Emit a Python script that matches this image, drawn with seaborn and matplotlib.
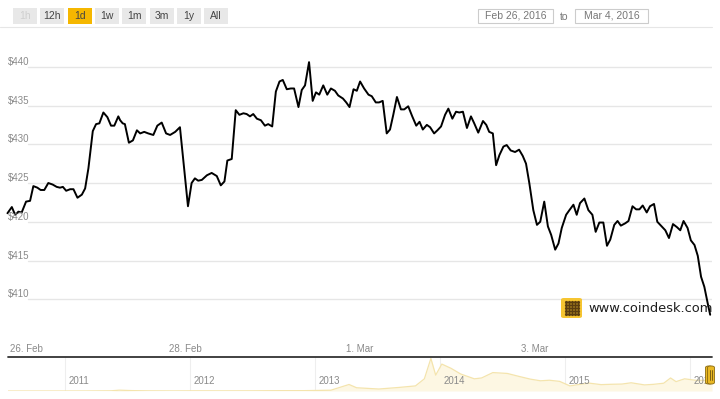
import numpy as np
import pandas as pd
import matplotlib
matplotlib.use("Agg")
import matplotlib.pyplot as plt
import matplotlib.dates as mdates
from matplotlib.patches import FancyBboxPatch
import seaborn as sns

# BPI price, hours after 26 Feb 2016 00:00
hours = [-0.7, 0.5, 1.4, 2.3, 3.2, 4.4, 5.5, 6.4, 7.5, 8.4, 9.4, 10.5, 11.7, 12.8, 13.7,
         14.5, 15.4, 16.5, 17.4, 18.5, 19.7, 20.6, 21.5, 22.7, 23.6, 24.5, 25.6, 26.7, 27.7,
         28.6, 29.7, 30.2, 30.9, 31.5, 32.6, 33.7, 34.8, 35.7, 36.8, 37.9, 39.3, 40.4, 41.6,
         42.8, 43.9, 45.3, 46.6, 47.5, 48.8, 49.8, 50.7, 51.6, 52.6, 54.0, 55.3, 56.7, 57.8,
         58.8, 59.6, 60.8, 61.9, 62.9, 64.0, 64.9, 65.8, 66.7, 67.7, 68.8, 69.9, 70.8, 71.9,
         72.9, 73.9, 74.8, 75.9, 77.0, 77.9, 79.1, 80.0, 80.9, 82.0, 83.0, 83.9, 84.8, 85.9,
         87.0, 88.0, 89.1, 90.0, 91.3, 92.2, 93.1, 94.2, 95.1, 96.0, 97.1, 98.3, 99.2, 100.3,
         101.2, 102.2, 103.3, 104.2, 105.1, 106.1, 107.2, 108.1, 109.2, 110.3, 111.4, 112.3,
         113.2, 114.3, 115.2, 116.3, 117.2, 118.2, 119.3, 120.2, 121.3, 122.3, 123.2, 124.2,
         125.3, 126.4, 127.3, 128.4, 129.7, 130.6, 131.4, 132.4, 133.3, 134.2, 135.3, 136.2,
         137.3, 138.5, 139.6, 140.6, 141.5, 142.4, 143.5, 144.5, 145.4, 146.5, 147.5, 148.4,
         149.5, 150.4, 151.3, 152.5, 153.4, 154.5, 155.4, 156.3, 157.5, 158.6, 159.7, 160.6,
         161.6, 162.7, 163.7, 164.6, 165.7, 166.6, 167.5, 168.7, 169.6, 170.7, 171.7, 172.6,
         173.5, 174.6, 175.5, 176.6, 177.5, 178.7, 179.7, 180.7, 181.8, 182.9, 183.8, 184.7,
         185.8, 186.7, 187.7, 188.6, 189.5, 190.4, 191.4, 192.0]
price = [421.1, 421.9, 420.9, 421.3, 421.2, 422.6, 422.7, 424.6, 424.4, 424.1, 424.1, 425.0,
         424.8, 424.5, 424.4, 424.5, 424.0, 424.2, 424.2, 423.1, 423.5, 424.3, 426.9, 431.7,
         432.6, 432.7, 434.1, 433.5, 432.4, 432.4, 433.6, 433.1, 432.7, 432.6, 430.2, 430.5,
         431.8, 431.4, 431.6, 431.4, 431.2, 432.4, 432.8, 431.4, 431.2, 431.6, 432.2, 428.0,
         422.0, 425.0, 425.6, 425.3, 425.4, 426.0, 426.3, 425.9, 424.7, 425.2, 427.9, 428.1,
         434.4, 433.8, 434.0, 433.9, 433.6, 433.9, 433.3, 433.1, 432.4, 432.6, 432.3, 436.8,
         438.1, 438.3, 437.1, 437.2, 437.2, 434.8, 437.0, 437.6, 440.6, 435.6, 436.7, 436.4,
         437.6, 436.4, 437.2, 436.9, 436.3, 435.9, 435.4, 434.8, 437.1, 436.9, 438.1, 437.2,
         436.4, 436.2, 435.4, 435.4, 435.6, 431.4, 431.9, 433.8, 436.1, 434.5, 434.5, 434.9,
         433.6, 432.4, 432.9, 431.9, 432.5, 432.2, 431.4, 431.8, 432.3, 433.8, 434.6, 433.3,
         434.2, 434.1, 434.2, 432.1, 433.6, 432.7, 431.5, 433.0, 432.5, 431.6, 431.4, 427.3,
         428.6, 429.7, 429.9, 429.2, 429.0, 429.3, 428.5, 427.5, 425.0, 421.5, 419.6, 420.0,
         422.6, 419.4, 418.3, 416.4, 417.2, 419.2, 420.9, 421.5, 422.2, 420.9, 422.4, 423.0,
         421.5, 420.9, 418.7, 419.9, 419.9, 416.9, 417.7, 419.6, 420.1, 419.5, 419.8, 420.1,
         422.0, 421.6, 421.6, 422.1, 421.2, 422.0, 422.3, 420.0, 419.4, 418.9, 417.9, 419.7,
         419.3, 418.9, 420.1, 419.2, 417.6, 417.0, 415.6, 412.9, 411.6, 409.3, 408.0]

# navigator: long-run history of the index
nav_dates = ["2010-07-18", "2010-10-01", "2011-01-01", "2011-03-01", "2011-05-15", "2011-06-08",
             "2011-07-15", "2011-09-01", "2011-11-15", "2012-01-15", "2012-04-01", "2012-07-01",
             "2012-09-15", "2012-12-01", "2013-02-15", "2013-04-09", "2013-05-01", "2013-07-05",
             "2013-09-01", "2013-10-20", "2013-11-15", "2013-12-04", "2013-12-18", "2014-01-05",
             "2014-02-01", "2014-03-01", "2014-04-10", "2014-05-01", "2014-06-03", "2014-07-15",
             "2014-08-20", "2014-09-20", "2014-10-20", "2014-11-15", "2014-12-15", "2015-01-14",
             "2015-02-15", "2015-03-10", "2015-04-15", "2015-05-15", "2015-06-15", "2015-07-12",
             "2015-08-20", "2015-09-15", "2015-10-15", "2015-11-04", "2015-11-20", "2015-12-15",
             "2016-01-15", "2016-02-10", "2016-03-04"]
nav_price = [0.07, 0.1, 0.3, 0.9, 7, 29, 14, 6, 3, 6, 5, 6.5, 12, 13, 28, 230, 115, 70,
             125, 180, 430, 1150, 560, 950, 800, 600, 430, 460, 650, 620, 510, 420, 360,
             380, 340, 180, 240, 280, 225, 237, 245, 290, 215, 235, 275, 460, 330, 430,
             380, 375, 410]

y_ticks = [410, 415, 420, 425, 430, 435, 440]
x_ticks = ["2016-02-26", "2016-02-28", "2016-03-01", "2016-03-03"]
years = [2011, 2012, 2013, 2014, 2015, 2016]
buttons = ["1h", "12h", "1d", "1w", "1m", "3m", "1y", "All"]
selected = "1d"
date_from = "Feb 26, 2016"
date_to = "Mar 4, 2016"

W, H = 720, 399


def fx(x):
    return x / W


def fy(y):
    return 1 - y / H


sns.set_style("white")
plt.rcParams["font.family"] = ["Liberation Sans", "DejaVu Sans"]

fig = plt.figure(figsize=(7.2, 3.99), dpi=100)

# ---- main chart
start = pd.Timestamp("2016-02-26")
df = pd.DataFrame({"time": start + pd.to_timedelta(hours, unit="h"), "price": price})

ax = fig.add_axes([fx(6), fy(338), fx(712) - fx(6), fy(35) - fy(338)])
for v in y_ticks:
    ax.axhline(v, xmin=(28 - 6) / 706, xmax=1, color="#e6e6e6", lw=1, zorder=0)
sns.lineplot(data=df, x="time", y="price", ax=ax, color="black", lw=1.4, zorder=3)
ax.set_xlim(start + pd.Timedelta(hours=-1.1), start + pd.Timedelta(hours=192.5))
ax.set_ylim(405.0, 444.1)
ax.set_xlabel("")
ax.set_ylabel("")
ax.set_yticks([])
for s in ax.spines.values():
    s.set_visible(False)
ax.set_xticks(pd.to_datetime(x_ticks))
ax.xaxis.set_major_formatter(mdates.DateFormatter("%-d. %b"))
ax.tick_params(axis="x", length=0, pad=4, labelsize=7, labelcolor="#8a8a8a")
ax.get_xticklabels()[0].set_ha("left")
for v in y_ticks:
    ax.text(2 / 706, v, f"${v}", transform=ax.get_yaxis_transform(), ha="left", va="bottom",
            fontsize=7, color="#8a8a8a", zorder=4)

# ---- navigator
nav = pd.DataFrame({"date": pd.to_datetime(nav_dates), "price": nav_price})
nx = fig.add_axes([fx(8), fy(391), fx(712) - fx(8), fy(357) - fy(391)])
nx.fill_between(nav["date"], nav["price"], 0, color="#fdf7e3", lw=0)
sns.lineplot(data=nav, x="date", y="price", ax=nx, color="#f4e4ad", lw=0.9)
nx.set_xlim(pd.Timestamp("2010-07-18"), pd.Timestamp("2016-03-04"))
nx.set_ylim(0, 1200)
nx.set_xlabel("")
nx.set_ylabel("")
nx.set_xticks([])
nx.set_yticks([])
for s in nx.spines.values():
    s.set_visible(False)
for yr in years:
    d = pd.Timestamp(f"{yr}-01-01")
    nx.axvline(d, color="#eeeeee", lw=0.8, zorder=0)
    nx.annotate(str(yr), (d, 0.28), xycoords=("data", "axes fraction"),
                xytext=(3, 0), textcoords="offset pixels", ha="left", va="center",
                fontsize=7, color="#8a8a8a")
nx.axhline(1200, color="#333333", lw=1.3, clip_on=False)

# range handles at the right end of the navigator
for dx in (705.5, 707.5):
    fig.add_artist(FancyBboxPatch((fx(dx), fy(384)), fx(7), fy(366) - fy(384),
                                  boxstyle="round,pad=0,rounding_size=0.004",
                                  transform=fig.transFigure, fc="#e9b824",
                                  ec="#8a6a10", lw=0.6))
for lx in (710, 712):
    fig.add_artist(plt.Line2D([fx(lx), fx(lx)], [fy(370), fy(380)],
                              transform=fig.transFigure, color="#6b5210", lw=0.6))

# ---- range selector buttons
for i, b in enumerate(buttons):
    left = 13 + i * 27.3
    fc = "#f5b700" if b == selected else "#e8e8e8"
    tc = "#cfcfcf" if b == "1h" else "#444444"
    fig.add_artist(FancyBboxPatch((fx(left), fy(23.5)), fx(24), fy(8) - fy(23.5),
                                  boxstyle="square,pad=0", transform=fig.transFigure,
                                  fc=fc, ec="none"))
    fig.text(fx(left + 12), fy(16), b, ha="center", va="center", fontsize=7.5, color=tc)

# date inputs
for (x0, x1, txt) in [(478, 553, date_from), (575, 648, date_to)]:
    fig.add_artist(FancyBboxPatch((fx(x0), fy(23)), fx(x1 - x0), fy(9) - fy(23),
                                  boxstyle="square,pad=0", transform=fig.transFigure,
                                  fc="white", ec="#cccccc", lw=0.8))
    fig.text(fx((x0 + x1) / 2), fy(16), txt, ha="center", va="center", fontsize=7.5,
             color="#777777")
fig.text(fx(564), fy(16.5), "to", ha="center", va="center", fontsize=7.5, color="#777777")

fig.add_artist(plt.Line2D([0, fx(712)], [fy(27), fy(27)], transform=fig.transFigure,
                          color="#e6e6e6", lw=0.8))

# coindesk watermark
fig.add_artist(FancyBboxPatch((fx(561), fy(318)), fx(21), fy(298) - fy(318),
                              boxstyle="round,pad=0,rounding_size=0.004",
                              transform=fig.transFigure, fc="#f6c531", ec="none", zorder=5))
gx, gy = np.meshgrid(np.arange(565.5, 579, 3.2), np.arange(301.5, 316, 3.2))
fig.add_artist(plt.Line2D(fx(gx.ravel()), fy(gy.ravel()), transform=fig.transFigure,
                          ls="none", marker="o", ms=1.3, color="#5a3d10", zorder=6))
fig.text(fx(588), fy(309), "www.coindesk.com", ha="left", va="center", fontsize=9.4,
         color="#1e1e1e", family=["DejaVu Sans"], zorder=6)

fig.savefig("out.png", dpi=100)
